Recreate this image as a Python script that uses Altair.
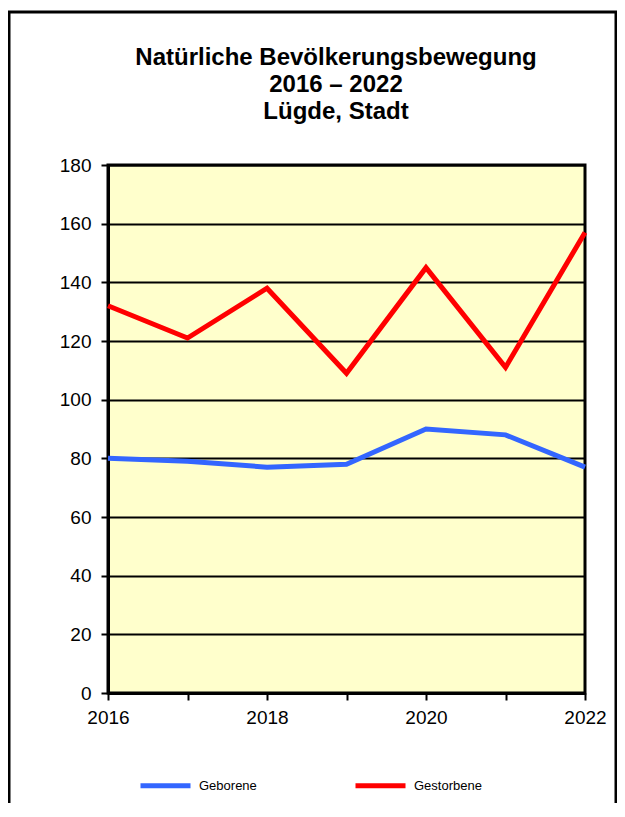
import altair as alt
import pandas as pd

years = [2016, 2017, 2018, 2019, 2020, 2021, 2022]
geborene = [80, 79, 77, 78, 90, 88, 77]
gestorbene = [132, 121, 138, 109, 145, 111, 157]
series = ["Geborene", "Gestorbene"]
colors = ["#3366FF", "#FF0000"]
title_lines = ["Natürliche Bevölkerungsbewegung", "2016 – 2022", "Lügde, Stadt"]
y_ticks = [0, 20, 40, 60, 80, 100, 120, 140, 160, 180]

rows = []
for y, g, d in zip(years, geborene, gestorbene):
    rows.append({"Jahr": y, "Wert": g, "Reihe": series[0]})
    rows.append({"Jahr": y, "Wert": d, "Reihe": series[1]})
df = pd.DataFrame(rows)

W, H = 477, 528

lines = alt.Chart(df).mark_line(strokeWidth=5).encode(
    x=alt.X("Jahr:Q",
            scale=alt.Scale(domain=[2016, 2022], nice=False, zero=False),
            axis=alt.Axis(title=None, values=years, format="d",
                          labelExpr="datum.value % 2 == 0 ? datum.label : ''",
                          labelFlush=False, labelOverlap=False,
                          grid=False, domainColor="black", domainWidth=3,
                          tickColor="black", tickWidth=2, tickSize=7,
                          labelFontSize=19, labelColor="black", labelPadding=8,
                          labelFont="Liberation Sans")),
    y=alt.Y("Wert:Q",
            scale=alt.Scale(domain=[0, 180], nice=False),
            axis=alt.Axis(title=None, values=y_ticks,
                          grid=True, gridColor="black", gridWidth=2, gridOpacity=1,
                          domainColor="black", domainWidth=3,
                          tickColor="black", tickWidth=2, tickSize=7,
                          labelFontSize=19, labelColor="black", labelPadding=10,
                          labelFont="Liberation Sans")),
    color=alt.Color("Reihe:N",
                    scale=alt.Scale(domain=series, range=colors),
                    legend=alt.Legend(title=None, orient="none", direction="horizontal",
                                      legendX=30, legendY=593,
                                      symbolType="stroke", symbolSize=2500,
                                      symbolStrokeWidth=5, labelFontSize=13,
                                      labelFont="Liberation Sans", labelColor="black",
                                      labelOffset=6, columnPadding=88)),
)

border = alt.Chart(alt.Data(values=[{}])).mark_rect(
    filled=False, stroke="black", strokeWidth=3
).encode(
    x=alt.value(-99), x2=alt.value(508),
    y=alt.value(-153), y2=alt.value(660),
)

title = alt.Chart(alt.Data(values=[{}])).mark_text(
    align="center", baseline="alphabetic", font="Liberation Sans",
    fontWeight="bold", fontSize=24, lineHeight=27, color="black"
).encode(
    x=alt.value(228), y=alt.value(-100), text=alt.value(title_lines)
)

chart = alt.layer(border, lines, title).properties(
    width=W, height=H,
    autosize=alt.AutoSizeParams(type="none"),
    padding={"left": 100, "top": 157, "right": 32, "bottom": 110},
).configure(
    background="white",
    view=alt.ViewConfig(fill="#FFFFCC", stroke="black", strokeWidth=3),
)

chart.save("out.html", embed_options={"renderer": "svg", "actions": False})
